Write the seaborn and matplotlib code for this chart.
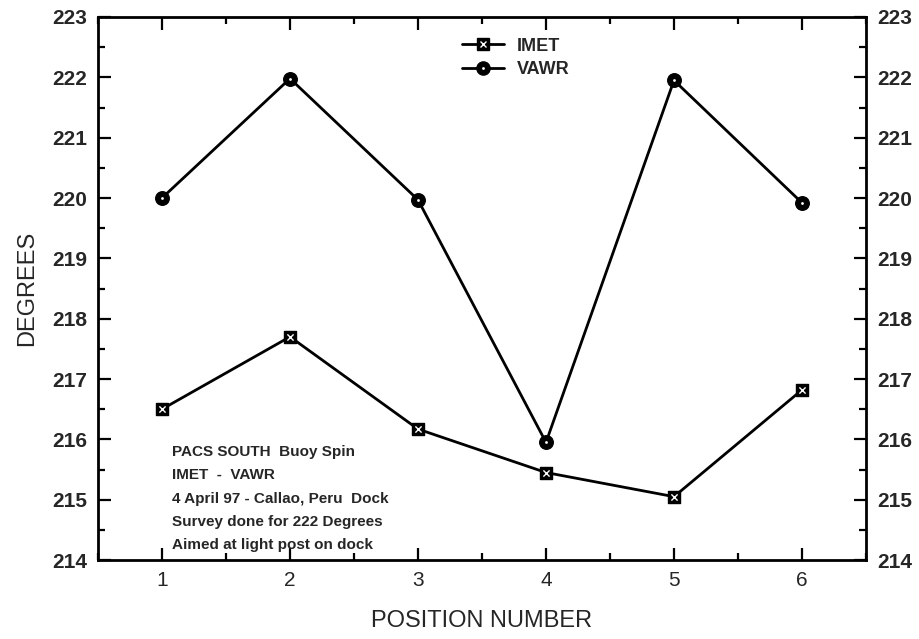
import pandas as pd
import seaborn as sns
import matplotlib.pyplot as plt
from matplotlib.ticker import MultipleLocator
from matplotlib.lines import Line2D
from matplotlib.legend_handler import HandlerTuple

# Buoy spin survey values
positions = [1, 2, 3, 4, 5, 6]
imet = [216.5, 217.7, 216.17, 215.45, 215.05, 216.82]
vawr = [220.0, 221.98, 219.97, 215.95, 221.95, 219.92]
note_lines = ['PACS SOUTH  Buoy Spin',
              'IMET  -  VAWR',
              '4 April 97 - Callao, Peru  Dock',
              'Survey done for 222 Degrees',
              'Aimed at light post on dock']

df = pd.DataFrame({'position': positions, 'IMET': imet, 'VAWR': vawr})

sns.set_style('ticks')
plt.rcParams['font.family'] = ['Liberation Sans', 'DejaVu Sans']

fig = plt.figure(figsize=(9.2, 6.39), dpi=100)
ax = fig.add_axes([0.1065, 0.1236, 0.8348, 0.8498])

# lines
sns.lineplot(data=df, x='position', y='IMET', ax=ax, color='black', lw=2)
sns.lineplot(data=df, x='position', y='VAWR', ax=ax, color='black', lw=2)

# IMET markers: black square with a white cross
sns.scatterplot(data=df, x='position', y='IMET', ax=ax, marker='s', s=85,
                color='black', edgecolor='black', linewidth=1, zorder=3)
sns.scatterplot(data=df, x='position', y='IMET', ax=ax, marker='x', s=20,
                color='white', linewidth=1, zorder=4)

# VAWR markers: black dot with a small white centre
sns.scatterplot(data=df, x='position', y='VAWR', ax=ax, marker='o', s=95,
                color='black', edgecolor='black', linewidth=1, zorder=3)
sns.scatterplot(data=df, x='position', y='VAWR', ax=ax, marker='o', s=4,
                color='white', edgecolor='white', linewidth=0, zorder=4)

ax.set_xlim(0.5, 6.5)
ax.set_ylim(214, 223)
ax.xaxis.set_major_locator(MultipleLocator(1))
ax.xaxis.set_minor_locator(MultipleLocator(0.5))
ax.yaxis.set_major_locator(MultipleLocator(1))
ax.yaxis.set_minor_locator(MultipleLocator(0.5))

for s in ax.spines.values():
    s.set_linewidth(2)
    s.set_color('black')

ax.tick_params(which='both', direction='in', top=True, right=True,
               labelright=True, width=1.6, color='black')
ax.tick_params(which='major', length=9)
ax.tick_params(which='minor', length=5)
ax.tick_params(axis='y', labelsize=15, pad=8)
ax.tick_params(axis='x', labelsize=15, pad=8)
for lab in ax.get_yticklabels():
    lab.set_fontweight('bold')

ax.set_xlabel('POSITION NUMBER', fontsize=17, labelpad=14)
ax.set_ylabel('DEGREES', fontsize=17, labelpad=10)

# legend keys built to match the markers above
h_imet = (Line2D([], [], color='black', lw=2, marker='s', ms=9, mfc='black', mec='black'),
          Line2D([], [], ls='none', marker='x', ms=4.5, mec='white', mew=1))
h_vawr = (Line2D([], [], color='black', lw=2, marker='o', ms=9.5, mfc='black', mec='black'),
          Line2D([], [], ls='none', marker='o', ms=2, mfc='white', mec='white', mew=0))
ax.legend(handles=[h_imet, h_vawr], labels=['IMET', 'VAWR'],
          handler_map={tuple: HandlerTuple(ndivide=1)},
          loc='upper left', bbox_to_anchor=(0.465, 0.975), frameon=False,
          prop={'size': 13, 'weight': 'bold'}, handlelength=2.3,
          handletextpad=0.7, labelspacing=0.35, borderaxespad=0)

ax.text(0.096, 0.212, '\n'.join(note_lines), transform=ax.transAxes,
        ha='left', va='top', fontsize=11, fontweight='bold', linespacing=1.85)

plt.savefig('out.png', dpi=100)
